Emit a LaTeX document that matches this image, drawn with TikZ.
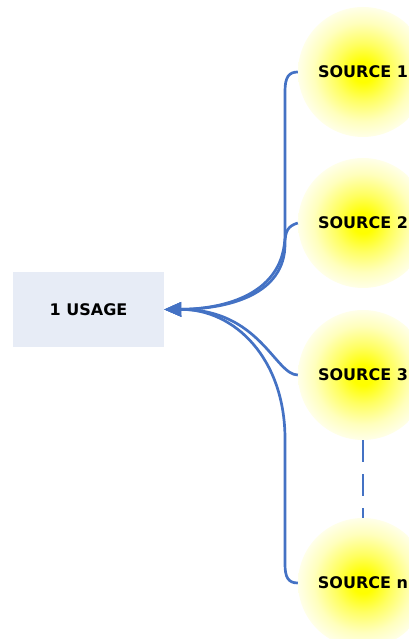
\documentclass[tikz,border=0pt]{standalone}
\usepackage{fontspec}
\setmainfont{DejaVu Sans}
\usetikzlibrary{arrows.meta}
\definecolor{linkblue}{RGB}{68,114,196}
\definecolor{boxgray}{RGB}{231,236,246}
\pgfdeclareradialshading{glow}{\pgfpoint{0bp}{0bp}}{color(0bp)=(yellow); color(4bp)=(yellow); color(11bp)=(yellow!62!white); color(19bp)=(yellow!26!white); color(26bp)=(yellow!6!white); color(30bp)=(white); color(50bp)=(white)}

\begin{document}
\begin{tikzpicture}[x=1pt, y=1pt,
    every node/.style={font=\bfseries\fontsize{16}{19}\selectfont},
    src/.style={circle, minimum size=130pt, inner sep=0pt, shade, shading=glow},
    link/.style={draw=linkblue, line width=2.7pt, -{Triangle[length=17pt,width=14pt]}}]
  \useasboundingbox (0,0) rectangle (409,639);
  \node [fill=boxgray, minimum width=151pt, minimum height=75pt] (usage) at (88.5,329.5) {1 USAGE};
  \node [src] (s1) at (363,567) {SOURCE 1};
  \node [src] (s2) at (363,416) {SOURCE 2};
  \node [src] (s3) at (363,264) {SOURCE 3};
  \node [src] (sn) at (363,56) {SOURCE n};
  \draw [link] (s1.west) .. controls (289,567) and (285,562) .. (285,548) -- (285,405)
    .. controls (285,345) and (225,330) .. (usage.east);
  \draw [link] (s2.west) .. controls (288,413) and (285,408) .. (285,395)
    .. controls (285,345) and (230,330) .. (usage.east);
  \draw [link] (s3.west) .. controls (275,264) and (260,330) .. (usage.east);
  \draw [link] (sn.west) .. controls (288,56) and (285,62) .. (285,75) -- (285,200)
    .. controls (285,280) and (235,330) .. (usage.east);
  \draw [draw=linkblue, line width=2.7pt, dash pattern=on 22pt off 12pt] (s3.south) -- (sn.north);
\end{tikzpicture}
\end{document}
